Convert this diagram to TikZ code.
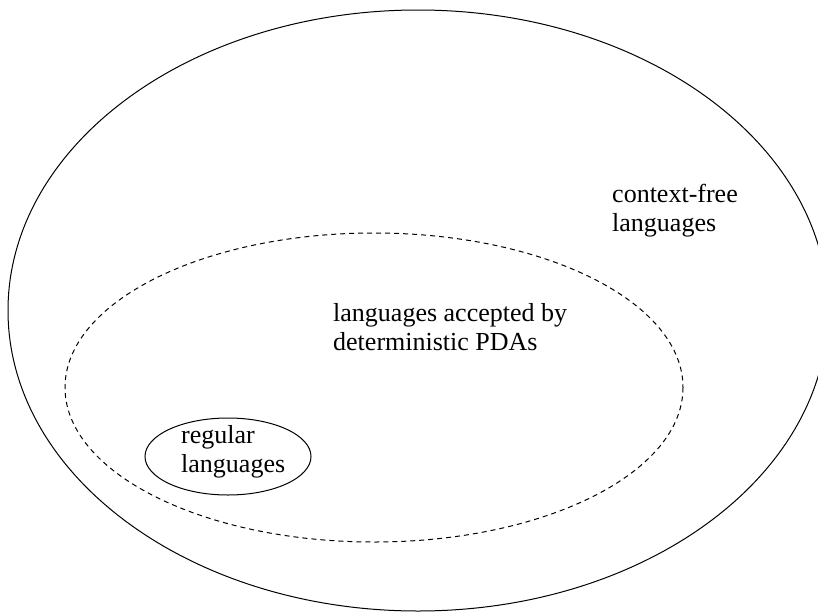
\documentclass[tikz,border=0pt]{standalone}
\usepackage{fontspec}
\setmainfont{Liberation Serif}
\begin{document}
\begin{tikzpicture}[x=1pt,y=-1pt,
  setbox/.style={line width=1pt},
  dashbox/.style={line width=1pt, dash pattern=on 5pt off 4pt},
  lbl/.style={anchor=base west, inner sep=0pt, font=\fontsize{26}{30}\selectfont}]
\useasboundingbox (0,0) rectangle (818,613);
\clip (0,0) rectangle (818,613);
\draw[setbox] (418,310.5) ellipse [x radius=410, y radius=300.5];
\draw[dashbox] (374,387.5) ellipse [x radius=309, y radius=154.5];
\draw[setbox] (228,456.5) ellipse [x radius=83, y radius=38.5];
\node[lbl] (cf1) at (612,202) {context-free};
\node[lbl] (cf2) at (612,231) {languages};
\node[lbl] (dp1) at (333,321) {languages accepted by};
\node[lbl] (dp2) at (333,350) {deterministic PDAs};
\node[lbl] (rg1) at (181,443) {regular};
\node[lbl] (rg2) at (181,472) {languages};
\end{tikzpicture}
\end{document}
